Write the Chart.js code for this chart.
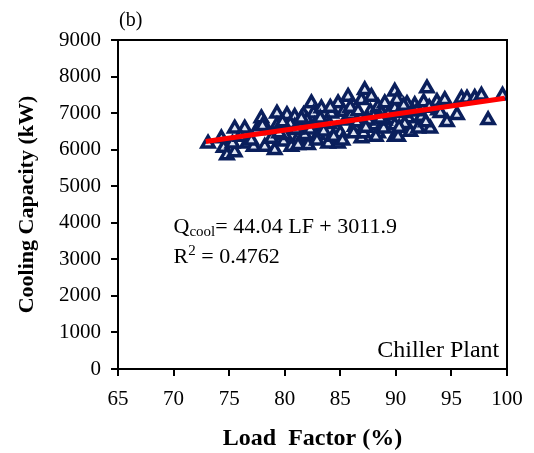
<!DOCTYPE html>
<html>
<head>
<meta charset="utf-8">
<script src="https://cdn.jsdelivr.net/npm/chart.js@4.4.1/dist/chart.umd.min.js"></script>
<style>
    html, body { margin: 0; padding: 0; background: #fff; }
    #wrap { width: 534px; height: 453px; }
</style>
</head>
<body>
<div id="wrap"><canvas id="chillerChart" width="534" height="453"></canvas></div>
<script>
// Load factor (%) and cooling capacity (kW)
const loadFactor = [
    73.1, 74.3, 74.5, 74.8, 75.5, 75.3, 75.5, 76.4, 76.6, 77.2,
    77.5, 77.9, 78.2, 78.4, 79.1, 79.3, 79.3, 79.9, 80.2, 80.2,
    80.6, 80.9, 80.9, 81.2, 81.2, 81.4, 81.7, 82.1, 82.4, 82.6,
    82.7, 83.3, 83.9, 84.2, 84.7, 84.8, 84.8, 85.3, 85.7, 86.3,
    86.9, 86.9, 87.1, 87.2, 87.7, 87.8, 88.1, 88.4, 88.4, 88.9,
    89.0, 89.9, 89.9, 89.9, 89.9, 90.1, 90.2, 91.1, 91.3, 91.7,
    92.0, 92.8, 93.1, 93.7, 93.8, 94.4, 94.6, 95.5, 95.9, 96.4,
    97.1, 97.7, 98.3, 99.6,
    83.0, 85.5, 86.0, 84.0, 82.0, 83.5, 86.5, 88.0, 89.0, 90.5,
    91.5, 92.5, 85.0, 87.5, 88.7, 80.0, 78.8, 81.8, 90.8, 92.3,
    93.0, 94.0, 91.0,
    76.0, 77.0, 78.0, 79.5, 80.5, 81.5, 82.3, 83.2, 84.4, 85.2,
    85.9, 86.6, 87.3, 88.2, 89.3, 90.3, 91.9, 92.7, 84.1, 86.2,
    82.9, 81.0, 79.8, 88.6, 90.7
];
const coolingCapacity = [
    6170, 6310, 6050, 5850, 5930, 6170, 6580, 6580, 6170, 6080,
    6540, 6860, 6080, 6540, 5990, 6990, 6670, 6220, 6950, 6540,
    6080, 6900, 6630, 6310, 6130, 6630, 6950, 6130, 7270, 6990,
    6670, 7130, 6170, 6990, 6540, 7270, 6170, 7040, 7450, 6630,
    7360, 6310, 6450, 7630, 7040, 7450, 6670, 7170, 6450, 6580,
    7270, 7590, 7130, 6670, 6350, 7360, 6350, 6860, 6490, 7220,
    6580, 7680, 6580, 7310, 7080, 7360, 6760, 6950, 7400, 7400,
    7420, 7480, 6810, 7480,
    6400, 6800, 6950, 6700, 6800, 6500, 6750, 6900, 6800, 7000,
    7050, 7300, 6450, 6800, 7000, 6400, 6300, 6400, 6700, 6900,
    7150, 7000, 7250,
    6350, 6250, 6650, 6450, 6700, 6850, 6550, 6850, 6350, 6250,
    7150, 7050, 6600, 6350, 6950, 6600, 7050, 6750, 7150, 6450,
    6250, 6550, 6750, 6850, 7200
];

// Fitted line end points (Qcool = 44.04 LF + 3011.9)
const fitLoad = [72.9, 99.8];
const fitCapacity = [6222, 7407];

const xTicks = [65, 70, 75, 80, 85, 90, 95, 100];
const yTicks = [0, 1000, 2000, 3000, 4000, 5000, 6000, 7000, 8000, 9000];

const FONT = "'Liberation Serif', 'Times New Roman', serif";

const scatterPoints = loadFactor.map((lf, i) => ({ x: lf, y: coolingCapacity[i] }));
const fitPoints = fitLoad.map((lf, i) => ({ x: lf, y: fitCapacity[i] }));

// frame, outside tick marks and text annotations
const annotations = {
    id: 'annotations',
    afterDraw(chart) {
        const ctx = chart.ctx;
        const area = chart.chartArea;
        const xs = chart.scales.x;
        const ys = chart.scales.y;

        ctx.save();
        ctx.strokeStyle = '#000';
        ctx.lineWidth = 2;
        ctx.strokeRect(area.left, area.top, area.right - area.left, area.bottom - area.top);

        ctx.beginPath();
        xTicks.forEach(v => {
            const px = Math.round(xs.getPixelForValue(v));
            ctx.moveTo(px, area.bottom);
            ctx.lineTo(px, area.bottom + 7);
        });
        yTicks.forEach(v => {
            const py = Math.round(ys.getPixelForValue(v));
            ctx.moveTo(area.left, py);
            ctx.lineTo(area.left - 7, py);
        });
        ctx.stroke();

        ctx.fillStyle = '#000';
        ctx.textBaseline = 'alphabetic';

        // panel label
        ctx.font = `20px ${FONT}`;
        ctx.textAlign = 'left';
        ctx.fillText('(b)', area.left + 1, area.top - 14);

        // regression equation
        let x = xs.getPixelForValue(70);
        let y = ys.getPixelForValue(3720);
        ctx.font = `22px ${FONT}`;
        ctx.fillText('Q', x, y);
        x += ctx.measureText('Q').width;
        ctx.font = `15px ${FONT}`;
        ctx.fillText('cool', x, y + 3);
        x += ctx.measureText('cool').width;
        ctx.font = `22px ${FONT}`;
        ctx.fillText('= 44.04 LF + 3011.9', x, y);

        x = xs.getPixelForValue(70);
        y = ys.getPixelForValue(2900);
        ctx.fillText('R', x, y);
        x += ctx.measureText('R').width;
        ctx.font = `15px ${FONT}`;
        ctx.fillText('2', x, y - 8);
        x += ctx.measureText('2').width;
        ctx.font = `22px ${FONT}`;
        ctx.fillText(' = 0.4762', x, y);

        // plant label
        ctx.font = `24px ${FONT}`;
        ctx.textAlign = 'right';
        ctx.fillText('Chiller Plant', xs.getPixelForValue(99.3), ys.getPixelForValue(330));
        ctx.restore();
    }
};

const chart = new Chart(document.getElementById('chillerChart').getContext('2d'), {
    type: 'scatter',
    data: {
        datasets: [
            {
                type: 'line',
                label: 'Fit',
                data: fitPoints,
                borderColor: '#ff0000',
                borderWidth: 5,
                pointRadius: 0,
                fill: false,
                order: 0
            },
            {
                label: 'Chiller Plant',
                data: scatterPoints,
                pointStyle: 'triangle',
                pointRadius: 7,
                borderWidth: 3.5,
                borderColor: '#0a1f5c',
                backgroundColor: '#dfe5f2',
                order: 1
            }
        ]
    },
    options: {
        responsive: false,
        animation: false,
        events: [],
        layout: { padding: { left: 0, right: 27, top: 40, bottom: 0 } },
        plugins: {
            legend: { display: false },
            tooltip: { enabled: false }
        },
        scales: {
            x: {
                type: 'linear',
                min: 65,
                max: 100,
                afterBuildTicks: s => { s.ticks = xTicks.map(v => ({ value: v })); },
                afterFit: s => {
                    s.height = 84;
                    s.paddingLeft = 0;
                    s.paddingRight = 0;
                },
                grid: { display: true, drawOnChartArea: false, drawTicks: false, tickLength: 7 },
                border: { display: true, color: '#000', width: 2 },
                ticks: {
                    color: '#000',
                    padding: 18,
                    font: { family: FONT, size: 21 },
                    maxRotation: 0,
                    callback: v => String(v)
                },
                title: {
                    display: true,
                    text: 'Load  Factor (%)',
                    color: '#000',
                    padding: { top: 0, bottom: 0 },
                    font: { family: FONT, size: 24, weight: 'bold' }
                }
            },
            y: {
                type: 'linear',
                min: 0,
                max: 9000,
                afterBuildTicks: s => { s.ticks = yTicks.map(v => ({ value: v })); },
                afterFit: s => {
                    s.width = 118;
                    s.paddingTop = 0;
                    s.paddingBottom = 0;
                },
                grid: { display: true, drawOnChartArea: false, drawTicks: false, tickLength: 8 },
                border: { display: true, color: '#000', width: 2 },
                ticks: {
                    color: '#000',
                    padding: 17,
                    font: { family: FONT, size: 21 },
                    callback: v => String(v)
                },
                title: {
                    display: true,
                    text: 'Cooling Capacity (kW)',
                    color: '#000',
                    padding: { top: 14, bottom: 0 },
                    font: { family: FONT, size: 22, weight: 'bold' }
                }
            }
        }
    },
    plugins: [annotations]
});
</script>
</body>
</html>
